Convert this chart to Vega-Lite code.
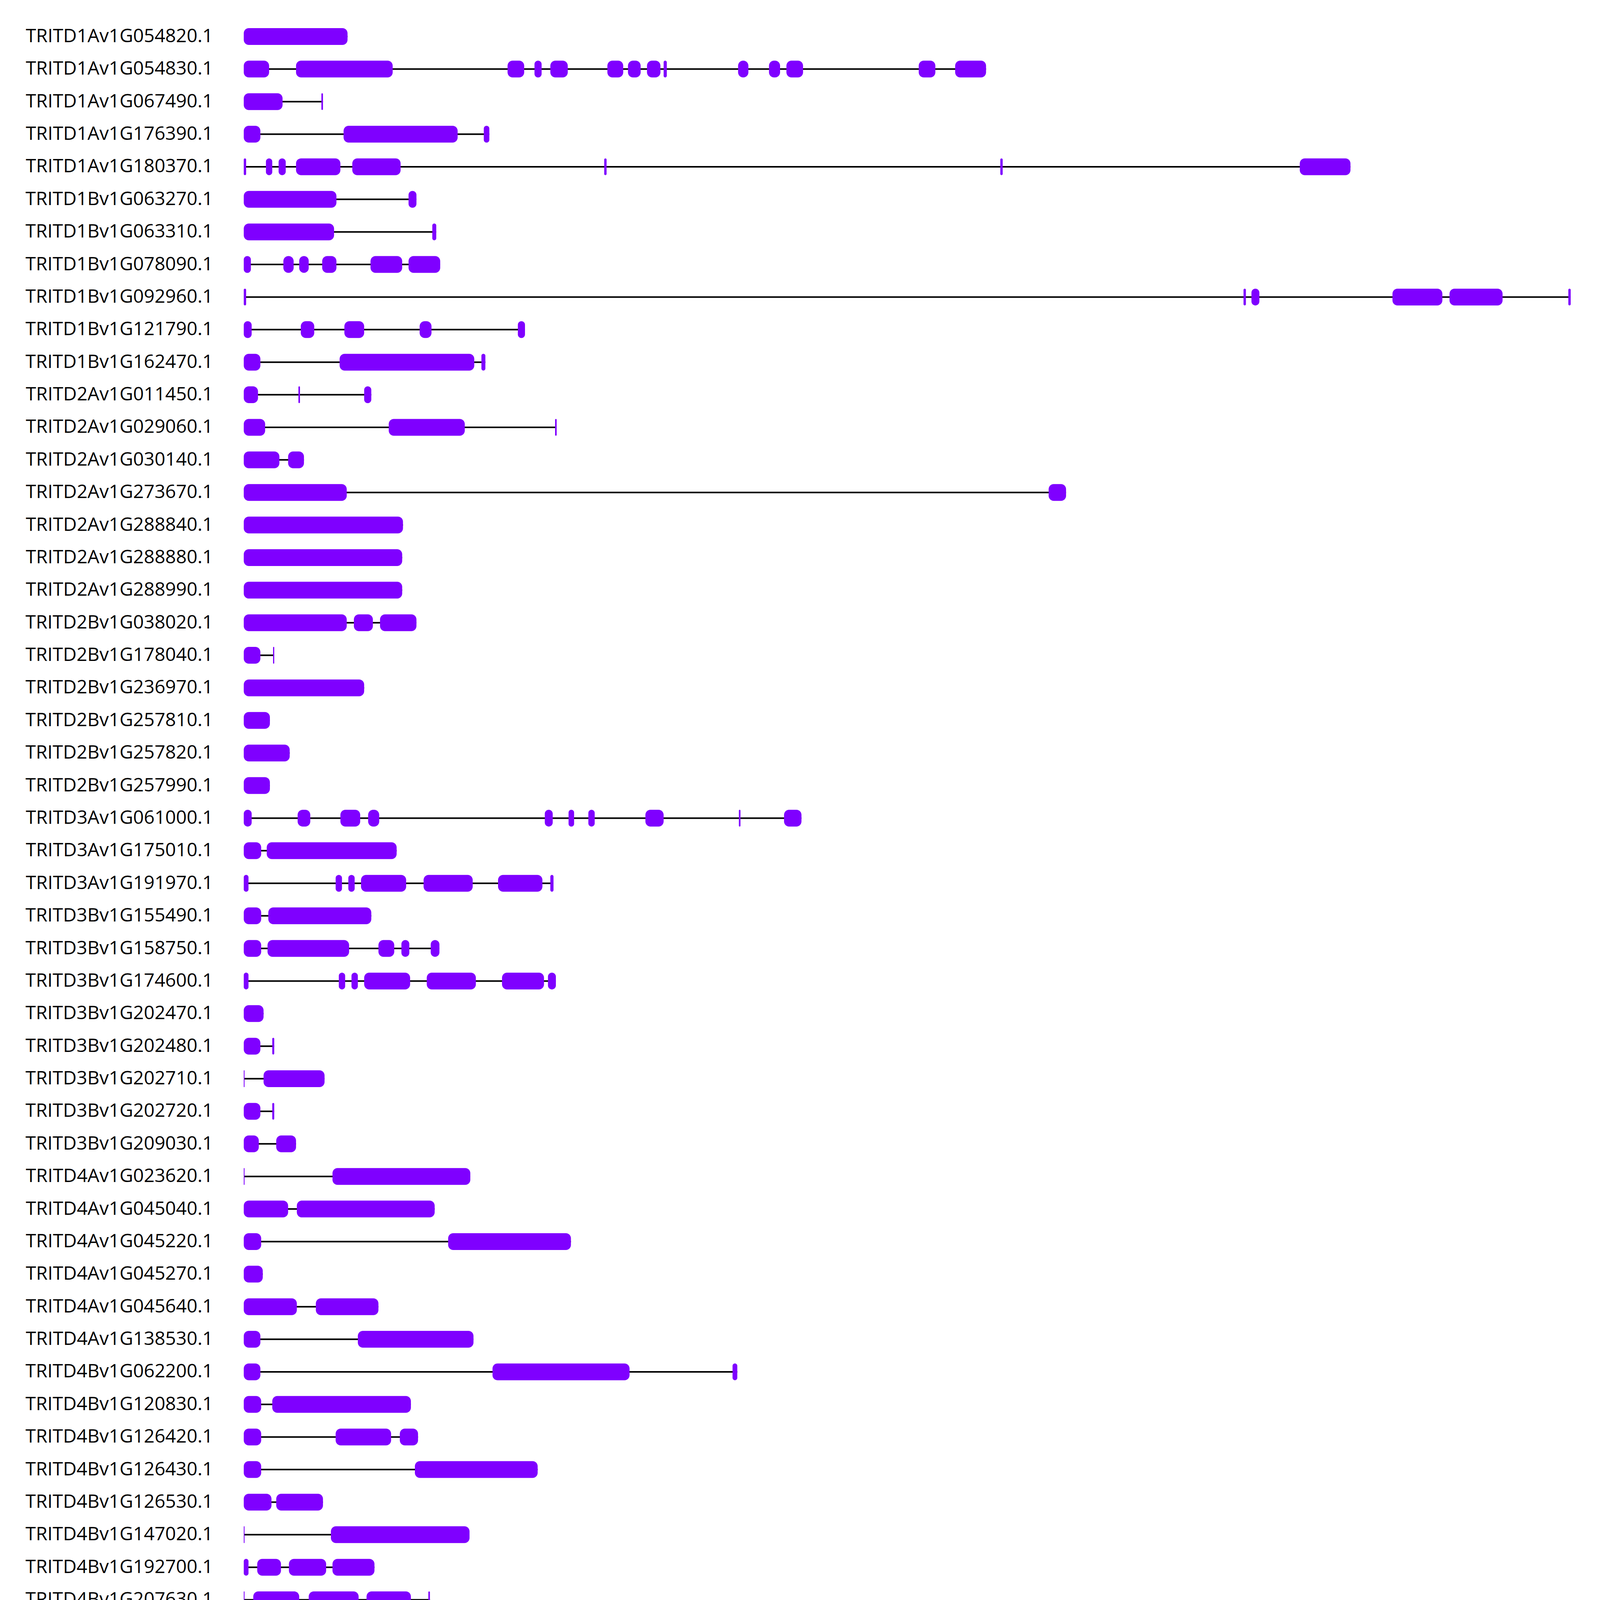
{
  "$schema": "https://vega.github.io/schema/vega-lite/v6.json",
  "background": "white",
  "autosize": {"type": "none"},
  "padding": {"left": 624, "top": 10, "right": 146, "bottom": 236},
  "width": 3397,
  "height": 7254,
  "config": {"view": {"stroke": null}, "font": "Open Sans"},
  "datasets": {
    "genes": [
      {"gene":"TRITD1Av1G054820.1","start":[0],"end":[1.31]},
      {"gene":"TRITD1Av1G054830.1","start":[0,0.66,3.33,3.67,3.87,4.59,4.85,5.09,5.30,6.24,6.63,6.85,8.52,8.98],"end":[0.32,1.88,3.54,3.76,4.09,4.79,5.01,5.26,5.34,6.37,6.77,7.06,8.73,9.37]},
      {"gene":"TRITD1Av1G067490.1","start":[0,0.98],"end":[0.49,1.0]},
      {"gene":"TRITD1Av1G176390.1","start":[0,1.26,3.03],"end":[0.21,2.70,3.10]},
      {"gene":"TRITD1Av1G180370.1","start":[0,0.28,0.44,0.66,1.37,4.55,9.55,13.33],"end":[0.03,0.36,0.53,1.22,1.98,4.58,9.58,13.97]},
      {"gene":"TRITD1Bv1G063270.1","start":[0,2.08],"end":[1.17,2.18]},
      {"gene":"TRITD1Bv1G063310.1","start":[0,2.38],"end":[1.14,2.43]},
      {"gene":"TRITD1Bv1G078090.1","start":[0,0.50,0.70,0.99,1.60,2.08],"end":[0.09,0.63,0.82,1.17,2.0,2.48]},
      {"gene":"TRITD1Bv1G092960.1","start":[0,12.62,12.72,14.50,15.22,16.72],"end":[0.03,12.65,12.82,15.13,15.89,16.75]},
      {"gene":"TRITD1Bv1G121790.1","start":[0,0.72,1.27,2.22,3.46],"end":[0.1,0.89,1.52,2.37,3.55]},
      {"gene":"TRITD1Bv1G162470.1","start":[0,1.21,3.00],"end":[0.21,2.91,3.05]},
      {"gene":"TRITD2Av1G011450.1","start":[0,0.69,1.52],"end":[0.18,0.71,1.61]},
      {"gene":"TRITD2Av1G029060.1","start":[0,1.83,3.93],"end":[0.27,2.79,3.95]},
      {"gene":"TRITD2Av1G030140.1","start":[0,0.56],"end":[0.45,0.76]},
      {"gene":"TRITD2Av1G273670.1","start":[0,10.16],"end":[1.30,10.38]},
      {"gene":"TRITD2Av1G288840.1","start":[0],"end":[2.01]},
      {"gene":"TRITD2Av1G288880.1","start":[0],"end":[2.0]},
      {"gene":"TRITD2Av1G288990.1","start":[0],"end":[2.0]},
      {"gene":"TRITD2Bv1G038020.1","start":[0,1.39,1.72],"end":[1.30,1.63,2.18]},
      {"gene":"TRITD2Bv1G178040.1","start":[0,0.37],"end":[0.21,0.385]},
      {"gene":"TRITD2Bv1G236970.1","start":[0],"end":[1.52]},
      {"gene":"TRITD2Bv1G257810.1","start":[0],"end":[0.33]},
      {"gene":"TRITD2Bv1G257820.1","start":[0],"end":[0.58]},
      {"gene":"TRITD2Bv1G257990.1","start":[0],"end":[0.33]},
      {"gene":"TRITD3Av1G061000.1","start":[0,0.68,1.22,1.57,3.80,4.10,4.35,5.07,6.25,6.82],"end":[0.10,0.84,1.47,1.71,3.90,4.17,4.43,5.30,6.27,7.04]},
      {"gene":"TRITD3Av1G175010.1","start":[0,0.29],"end":[0.22,1.93]},
      {"gene":"TRITD3Av1G191970.1","start":[0,1.16,1.32,1.48,2.27,3.21,3.87],"end":[0.06,1.24,1.40,2.05,2.89,3.77,3.91]},
      {"gene":"TRITD3Bv1G155490.1","start":[0,0.31],"end":[0.22,1.61]},
      {"gene":"TRITD3Bv1G158750.1","start":[0,0.30,1.70,1.99,2.36],"end":[0.22,1.33,1.90,2.09,2.47]},
      {"gene":"TRITD3Bv1G174600.1","start":[0,1.20,1.36,1.52,2.31,3.26,3.84],"end":[0.06,1.28,1.44,2.10,2.93,3.79,3.94]},
      {"gene":"TRITD3Bv1G202470.1","start":[0],"end":[0.25]},
      {"gene":"TRITD3Bv1G202480.1","start":[0,0.36],"end":[0.21,0.385]},
      {"gene":"TRITD3Bv1G202710.1","start":[0,0.25],"end":[0.01,1.02]},
      {"gene":"TRITD3Bv1G202720.1","start":[0,0.36],"end":[0.21,0.385]},
      {"gene":"TRITD3Bv1G209030.1","start":[0,0.41],"end":[0.19,0.66]},
      {"gene":"TRITD4Av1G023620.1","start":[0,1.12],"end":[0.01,2.86]},
      {"gene":"TRITD4Av1G045040.1","start":[0,0.67],"end":[0.56,2.41]},
      {"gene":"TRITD4Av1G045220.1","start":[0,2.58],"end":[0.22,4.13]},
      {"gene":"TRITD4Av1G045270.1","start":[0],"end":[0.24]},
      {"gene":"TRITD4Av1G045640.1","start":[0,0.91],"end":[0.67,1.70]},
      {"gene":"TRITD4Av1G138530.1","start":[0,1.44],"end":[0.21,2.90]},
      {"gene":"TRITD4Bv1G062200.1","start":[0,3.14,6.17],"end":[0.21,4.87,6.23]},
      {"gene":"TRITD4Bv1G120830.1","start":[0,0.36],"end":[0.22,2.11]},
      {"gene":"TRITD4Bv1G126420.1","start":[0,1.16,1.97],"end":[0.22,1.86,2.20]},
      {"gene":"TRITD4Bv1G126430.1","start":[0,2.16],"end":[0.22,3.71]},
      {"gene":"TRITD4Bv1G126530.1","start":[0,0.41],"end":[0.35,1.0]},
      {"gene":"TRITD4Bv1G147020.1","start":[0,1.10],"end":[0.01,2.85]},
      {"gene":"TRITD4Bv1G192700.1","start":[0,0.17,0.57,1.12],"end":[0.06,0.47,1.04,1.65]},
      {"gene":"TRITD4Bv1G207630.1","start":[0,0.12,0.82,1.55,2.33],"end":[0.01,0.70,1.45,2.11,2.35]},
      {"gene":"TRITD5Av1G040700.1","start":[0,1.80,3.18],"end":[0.21,3.13,3.40]},
      {"gene":"TRITD5Av1G065550.1","start":[0,1.39,2.28],"end":[0.51,1.64,2.34]},
      {"gene":"TRITD5Av1G160450.1","start":[0,0.54],"end":[0.02,1.21]},
      {"gene":"TRITD5Av1G172440.1","start":[0,0.32],"end":[0.26,1.98]},
      {"gene":"TRITD5Av1G201720.1","start":[0,1.55],"end":[0.18,1.67]},
      {"gene":"TRITD5Av1G232950.1","start":[0,2.70,3.77],"end":[0.21,3.74,3.83]},
      {"gene":"TRITD5Av1G244310.1","start":[0,0.13,0.54,1.09],"end":[0.05,0.45,1.02,1.63]},
      {"gene":"TRITD5Av1G244440.1","start":[0,0.12,0.60,1.14,3.21],"end":[0.05,0.45,1.08,1.34,3.56]},
      {"gene":"TRITD5Bv1G027870.1","start":[0],"end":[1.35]},
      {"gene":"TRITD5Bv1G039950.1","start":[0,1.58,3.34],"end":[0.02,3.19,3.48]},
      {"gene":"TRITD5Bv1G058760.1","start":[0,0.94,1.86,4.89],"end":[0.51,1.20,1.94,4.91]},
      {"gene":"TRITD5Bv1G080790.1","start":[0,8.48],"end":[0.21,9.74]},
      {"gene":"TRITD5Bv1G152350.1","start":[0,0.32,0.98,1.97],"end":[0.01,0.89,1.91,2.24]},
      {"gene":"TRITD5Bv1G163290.1","start":[0],"end":[0.34]},
      {"gene":"TRITD5Bv1G232320.1","start":[0,3.30,4.69],"end":[0.21,4.64,4.76]},
      {"gene":"TRITD5Bv1G240440.1","start":[0],"end":[0.40]},
      {"gene":"TRITD5Bv1G244830.1","start":[0,2.08],"end":[0.49,2.11]},
      {"gene":"TRITD6Av1G008390.1","start":[0,0.74,1.09,1.39,1.98,2.43,2.55],"end":[0.04,1.01,1.31,1.64,2.36,2.47,2.61]},
      {"gene":"TRITD6Av1G174000.1","start":[0,0.96,2.02,2.57,2.91,3.35,3.77,4.07,4.22,4.39],"end":[0.75,1.20,2.18,2.82,3.05,3.68,3.94,4.15,4.33,4.41]},
      {"gene":"TRITD6Av1G202080.1","start":[0,0.48],"end":[0.40,1.02]},
      {"gene":"TRITD6Av1G204460.1","start":[0],"end":[1.33]},
      {"gene":"TRITD6Av1G204530.1","start":[0,0.95],"end":[0.82,0.97]},
      {"gene":"TRITD6Av1G204720.1","start":[0,0.18,1.39,3.12],"end":[0.02,1.10,1.91,3.14]},
      {"gene":"TRITD6Bv1G012740.1","start":[0,0.70,1.05,1.35,1.97,2.53,2.79,9.44],"end":[0.04,0.97,1.27,1.59,2.46,2.71,2.87,9.50]},
      {"gene":"TRITD6Bv1G087720.1","start":[0,1.25,1.63],"end":[1.17,1.27,1.65]},
      {"gene":"TRITD6Bv1G161760.1","start":[0,0.23,1.19,2.21,2.75,3.11,3.54,3.96,4.26,4.42,4.59,5.22,5.42,5.58],"end":[0.10,0.88,1.43,2.37,3.01,3.24,3.87,4.13,4.34,4.52,4.66,5.35,5.50,5.79]},
      {"gene":"TRITD6Bv1G197040.1","start":[0,1.10],"end":[1.01,1.63]},
      {"gene":"TRITD6Bv1G199910.1","start":[0,1.51],"end":[0.38,2.18]},
      {"gene":"TRITD6Bv1G199960.1","start":[0],"end":[0.26]},
      {"gene":"TRITD6Bv1G199980.1","start":[0,1.01],"end":[0.22,2.32]},
      {"gene":"TRITD7Av1G232280.1","start":[0,0.31],"end":[0.25,1.97]},
      {"gene":"TRITD7Av1G243980.1","start":[0,0.24,0.78,1.06,1.52,2.01,2.25],"end":[0.15,0.30,0.98,1.21,1.65,2.14,2.31]},
      {"gene":"TRITD7Bv1G181250.1","start":[0,0.30],"end":[0.25,1.97]},
      {"gene":"TRITD7Bv1G181360.1","start":[0],"end":[1.98]},
      {"gene":"TRITD7Bv1G193040.1","start":[0,0.93,2.32,2.50,3.03,3.31,3.78],"end":[0.82,1.14,2.42,2.57,3.25,3.47,3.80]},
      {"gene":"TRITD7Bv1G196770.1","start":[0,0.14,0.64],"end":[0.04,0.39,1.65]},
      {"gene":"TRITD7Bv1G210270.1","start":[0,0.72,1.27,2.64,10.62],"end":[0.10,0.89,1.52,2.79,10.71]}
    ]
  },
  "layer": [
    {
      "data": {"name": "genes"},
      "transform": [
        {"flatten": ["start", "end"]},
        {"aggregate": [{"op": "min", "field": "start", "as": "gstart"}, {"op": "max", "field": "end", "as": "gend"}], "groupby": ["gene"]}
      ],
      "mark": {"type": "rule", "strokeWidth": 4},
      "encoding": {
        "y": {"field": "gene", "type": "nominal", "sort": null},
        "x": {"field": "gstart", "type": "quantitative"},
        "x2": {"field": "gend"},
        "color": {"datum": "Intron", "type": "nominal"}
      }
    },
    {
      "data": {"name": "genes"},
      "transform": [{"flatten": ["start", "end"]}],
      "mark": {"type": "bar", "height": 43, "cornerRadius": 13},
      "encoding": {
        "y": {
          "field": "gene", "type": "nominal", "sort": null,
          "scale": {"type": "point", "padding": 1},
          "axis": {
            "title": null, "domain": false, "ticks": false,
            "labelPadding": 79, "labelFontSize": 48,
            "labelFont": "Open Sans",
            "labelColor": "#000000", "labelLimit": 2000, "labelOverlap": false
          }
        },
        "x": {
          "field": "start", "type": "quantitative",
          "scale": {"domain": [0, 16.75], "nice": false, "zero": true},
          "axis": {
            "title": null, "grid": false,
            "values": [0,1,2,3,4,5,6,7,8,9,10,11,12,13,14,15,16],
            "labelExpr": "datum.value + 'kb'",
            "tickSize": -20, "tickWidth": 3, "tickColor": "#000000",
            "domainWidth": 5, "domainColor": "#000000",
            "labelFontSize": 42, "labelFont": "Open Sans",
            "labelColor": "#000000", "labelPadding": 20, "labelFlush": false, "labelOverlap": false
          }
        },
        "x2": {"field": "end"},
        "color": {
          "datum": "Exon", "type": "nominal",
          "scale": {"domain": ["Exon", "Intron"], "range": ["#7F00FF", "#000000"]},
          "legend": {
            "title": "Legend:",
            "orient": "none", "legendX": -7, "legendY": 7370,
            "direction": "horizontal", "titleOrient": "left",
            "titleFontSize": 62, "titleFontWeight": "normal",
            "titleFont": "Open Sans", "titleLimit": 2000,
            "titleColor": "#000000", "titlePadding": 73,
            "labelFontSize": 47, "labelFont": "Open Sans",
            "labelColor": "#000000", "labelOffset": 36, "columnPadding": 70,
            "symbolSize": 7225, "labelLimit": 1000,
            "encode": {
              "symbols": {
                "update": {
                  "shape": {"signal": "datum.value === 'Exon' ? 'M-0.5,-0.5H0.5A0.5,0.5,0,0,1,0.5,0.5H-0.5A0.5,0.5,0,0,1,-0.5,-0.5Z' : 'stroke'"},
                  "fill": {"signal": "datum.value === 'Exon' ? '#7F00FF' : 'transparent'"},
                  "stroke": {"signal": "datum.value === 'Exon' ? 'transparent' : '#000000'"},
                  "strokeWidth": {"signal": "datum.value === 'Exon' ? 0 : 5"},
                  "size": {"value": 7225},
                  "opacity": {"value": 1}
                }
              }
            }
          }
        }
      }
    },
    {
      "data": {"values": [{"label": "5′", "pos": 0}]},
      "mark": {"type": "text", "align": "right", "baseline": "middle", "dx": -18, "dy": 44, "fontSize": 44, "font": "Open Sans", "color": "#000000"},
      "encoding": {
        "x": {"field": "pos", "type": "quantitative"},
        "y": {"datum": "TRITD7Bv1G210270.1", "type": "nominal"},
        "text": {"field": "label"}
      }
    },
    {
      "data": {"values": [{"label": "3′", "pos": 16.75}]},
      "mark": {"type": "text", "align": "left", "baseline": "middle", "dx": 20, "dy": 44, "fontSize": 44, "font": "Open Sans", "color": "#000000"},
      "encoding": {
        "x": {"field": "pos", "type": "quantitative"},
        "y": {"datum": "TRITD7Bv1G210270.1", "type": "nominal"},
        "text": {"field": "label"}
      }
    }
  ]
}
